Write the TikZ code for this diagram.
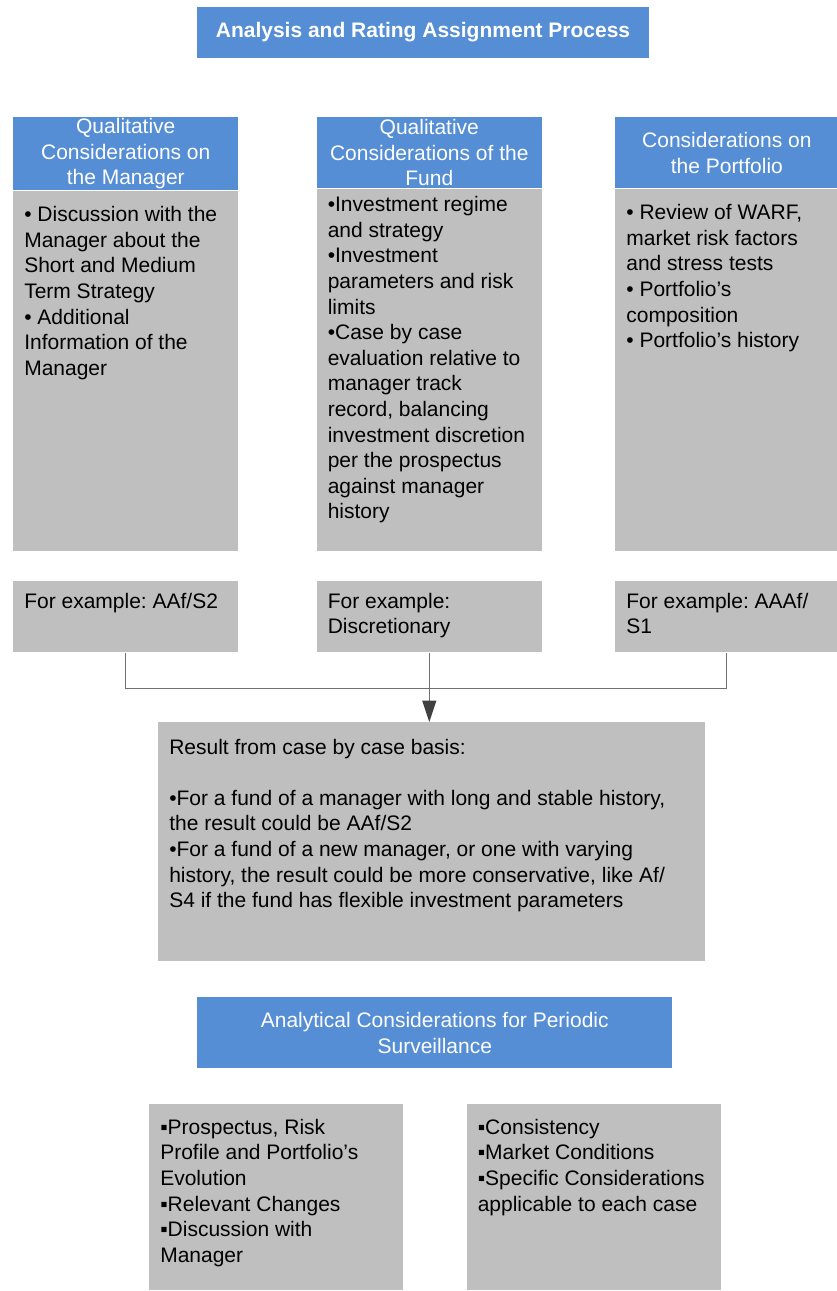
\documentclass[tikz,border=0pt]{standalone}
\usepackage{fontspec}
\setmainfont{Liberation Sans}
\usetikzlibrary{positioning,arrows.meta}
\definecolor{headblue}{HTML}{558ED5}
\definecolor{panelgray}{HTML}{BFBFBF}
\definecolor{linegray}{HTML}{6F6F6F}
\definecolor{arrowgray}{HTML}{404040}
\newcommand{\px}{0.75pt}
\newcommand{\boxfont}{\fontsize{15.75}{19.2}\selectfont\frenchspacing}

\begin{document}
\begin{tikzpicture}[x=0.75pt, y=-0.75pt,
titlebox/.style={fill=headblue, text=white, font=\boxfont\bfseries, minimum width=452*\px, minimum height=51*\px, inner sep=0pt},
headbox/.style={fill=headblue, text=white, font=\boxfont, align=center, minimum width=225*\px, inner sep=0pt},
panel/.style={fill=panelgray, minimum width=225*\px, inner sep=0pt},
panetext/.style={font=\boxfont, align=left, inner sep=0pt},
link/.style={draw=linegray, line width=0.75pt},
]
\useasboundingbox (0,0) rectangle (837,1291);

% Titulo
\node[titlebox] (title) at (423,32.5) {Analysis and Rating Assignment Process};

% Cabecalhos
\node[headbox, minimum height=73*\px, anchor=north west] (mgrhead) at (13,117) {Qualitative\\Considerations on\\the Manager};
\node[headbox, minimum height=71*\px, right=78*\px of mgrhead.north east, anchor=north west] (fundhead) {Qualitative\\Considerations of the\\Fund};
\node[headbox, minimum width=223*\px, minimum height=71*\px, right=73*\px of fundhead.north east, anchor=north west] (porthead) {Considerations on\\the Portfolio};

% Corpos
\node[panel, minimum height=360*\px, below=0pt of mgrhead] (mgrbody) {};
\node[panel, minimum height=362*\px, below=0pt of fundhead] (fundbody) {};
\node[panel, minimum width=223*\px, minimum height=362*\px, below=0pt of porthead] (portbody) {};

\node[panetext, below right=13*\px and 11*\px of mgrbody.north west] (mgrtext) {\strut• Discussion with the\\Manager about the\\Short and Medium\\Term Strategy\\• Additional\\Information of the\\Manager};
\node[panetext, below right=5*\px and 11*\px of fundbody.north west] (fundtext) {\strut•Investment regime\\and strategy\\•Investment\\parameters and risk\\limits\\•Case by case\\evaluation relative to\\manager track\\record, balancing\\investment discretion\\per the prospectus\\against manager\\history};
\node[panetext, below right=13*\px and 11*\px of portbody.north west] (porttext) {\strut• Review of WARF,\\market risk factors\\and stress tests\\• Portfolio’s\\composition\\• Portfolio’s history};

% Exemplos
\node[panel, minimum height=71*\px, below=30*\px of mgrbody] (mgrex) {};
\node[panel, minimum height=71*\px, below=30*\px of fundbody] (fundex) {};
\node[panel, minimum width=223*\px, minimum height=71*\px, below=30*\px of portbody] (portex) {};

\node[panetext, below right=9*\px and 11*\px of mgrex.north west] {\strut For example: AAf/S2};
\node[panetext, below right=9*\px and 11*\px of fundex.north west] {\strut For example:\\Discretionary};
\node[panetext, below right=9*\px and 11*\px of portex.north west] {\strut For example: AAAf/\\S1};

% Resultado
\node[panel, minimum width=547*\px, minimum height=239*\px, anchor=north west] (result) at (158,722) {};
\node[panetext, below right=14*\px and 11*\px of result.north west] (resulttext) {\strut Result from case by case basis:\\\mbox{}\\•For a fund of a manager with long and stable history,\\the result could be AAf/S2\\•For a fund of a new manager, or one with varying\\history, the result could be more conservative, like Af/\\S4 if the fund has flexible investment parameters};

% Ligacoes
\coordinate[below=36*\px of fundex] (junc);
\draw[link] (mgrex.south) |- (junc) -| (portex.south);
\draw[link, -{Triangle[width=10.5pt, length=16pt, color=arrowgray]}] (fundex.south) -- (fundex.south |- result.north);

% Monitoramento
\node[headbox, minimum width=475*\px, minimum height=71*\px, anchor=north west] (surv) at (197,997) {Analytical Considerations for Periodic\\Surveillance};
\node[panel, minimum width=254*\px, minimum height=186*\px, anchor=north west] (survleft) at (149,1104) {};
\node[panel, minimum width=254*\px, minimum height=186*\px, right=63*\px of survleft] (survright) {};

\node[panetext, below right=12*\px and 11*\px of survleft.north west] {\strut▪Prospectus, Risk\\Profile and Portfolio’s\\Evolution\\▪Relevant Changes\\▪Discussion with\\Manager};
\node[panetext, below right=12*\px and 11*\px of survright.north west] {\strut▪Consistency\\▪Market Conditions\\▪Specific Considerations\\applicable to each case};

\end{tikzpicture}
\end{document}
